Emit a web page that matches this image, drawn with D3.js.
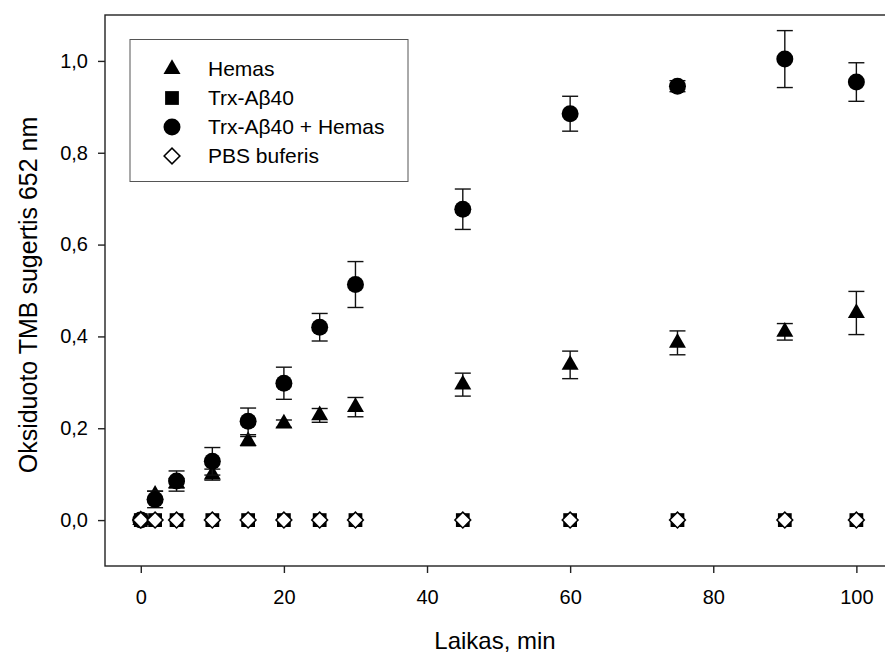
<!DOCTYPE html>
<meta charset="utf-8">
<style>
  body { margin: 0; background: #fff; }
  svg { font-family: "Liberation Sans", Arial, sans-serif; }
</style>
<svg width="885" height="655"></svg>
<script src="https://cdn.jsdelivr.net/npm/d3@7"></script>
<script>

// time points, min
var times = [0, 2, 5, 10, 15, 20, 25, 30, 45, 60, 75, 90, 100];

// Hemas
var hemas    = [0, 0.055, 0.08, 0.099, 0.172, 0.21, 0.228, 0.246, 0.295, 0.338, 0.386, 0.41, 0.451];
var hemasErr = [0, 0.008, 0.01, 0.012, 0.01, 0.008, 0.015, 0.021, 0.025, 0.03, 0.026, 0.018, 0.047];

// Trx-Ab40
var trx    = [0, 0, 0, 0, 0, 0, 0, 0, 0, 0, 0, 0, 0];
var trxErr = [0, 0, 0, 0, 0, 0, 0, 0, 0, 0, 0, 0, 0];

// Trx-Ab40 + Hemas
var mix    = [0, 0.045, 0.085, 0.128, 0.215, 0.298, 0.42, 0.513, 0.677, 0.885, 0.945, 1.004, 0.954];
var mixErr = [0, 0.018, 0.022, 0.03, 0.029, 0.035, 0.03, 0.05, 0.044, 0.038, 0.012, 0.062, 0.042];

// PBS buferis
var pbs    = [0, 0, 0, 0, 0, 0, 0, 0, 0, 0, 0, 0, 0];
var pbsErr = [0, 0, 0, 0, 0, 0, 0, 0, 0, 0, 0, 0, 0];

var seriesNames = ["Hemas", "Trx-A\u03b240", "Trx-A\u03b240 + Hemas", "PBS buferis"];
var xTicks = [0, 20, 40, 60, 80, 100];
var yTicks = [0, 0.2, 0.4, 0.6, 0.8, 1.0];

var svg = d3.select("svg");

var x = d3.scaleLinear().domain([-5, 104]).range([105, 885]);
var y = d3.scaleLinear().domain([-0.1, 1.1]).range([566, 15]);

var fmt = function(d) { return d3.format(".1f")(d).replace(".", ","); };

// symbol shapes per series
var shapes = [
  { type: d3.symbolTriangle, size: 125, fill: "#000", stroke: "none", rot: 0 },
  { type: d3.symbolSquare, size: 190, fill: "#000", stroke: "none", rot: 0 },
  { type: d3.symbolCircle, size: 227, fill: "#000", stroke: "none", rot: 0 },
  { type: d3.symbolSquare, size: 125, fill: "#fff", stroke: "#000", rot: 45 }
];

var series = [
  { vals: hemas, errs: hemasErr },
  { vals: trx, errs: trxErr },
  { vals: mix, errs: mixErr },
  { vals: pbs, errs: pbsErr }
];

var plot = svg.append("g");

series.forEach(function(s, si) {
  var pts = times.map(function(t, i) { return { t: t, v: s.vals[i], e: s.errs[i] }; });
  var g = plot.append("g");

  var eb = g.selectAll(".eb")
    .data(pts.filter(function(d) { return d.e > 0; }))
    .enter().append("g")
      .attr("stroke", "#111")
      .attr("stroke-width", 1.4);
  eb.append("line")
      .attr("x1", function(d) { return x(d.t); })
      .attr("x2", function(d) { return x(d.t); })
      .attr("y1", function(d) { return y(d.v - d.e); })
      .attr("y2", function(d) { return y(d.v + d.e); });
  eb.append("line")
      .attr("x1", function(d) { return x(d.t) - 8; })
      .attr("x2", function(d) { return x(d.t) + 8; })
      .attr("y1", function(d) { return y(d.v + d.e); })
      .attr("y2", function(d) { return y(d.v + d.e); });
  eb.append("line")
      .attr("x1", function(d) { return x(d.t) - 8; })
      .attr("x2", function(d) { return x(d.t) + 8; })
      .attr("y1", function(d) { return y(d.v - d.e); })
      .attr("y2", function(d) { return y(d.v - d.e); });

  var sh = shapes[si];
  g.selectAll(".pt")
    .data(pts)
    .enter().append("path")
      .attr("d", d3.symbol().type(sh.type).size(sh.size))
      .attr("transform", function(d) { return "translate(" + x(d.t) + "," + y(d.v) + ")rotate(" + sh.rot + ")"; })
      .attr("fill", sh.fill)
      .attr("stroke", sh.stroke)
      .attr("stroke-width", 1.5);
});

// frame
svg.append("rect")
    .attr("x", 105).attr("y", 15)
    .attr("width", 781).attr("height", 551)
    .attr("fill", "none")
    .attr("stroke", "#222")
    .attr("stroke-width", 1.4);

// axes
var xAxis = svg.append("g")
    .attr("transform", "translate(0,566)")
    .call(d3.axisBottom(x).tickValues(xTicks).tickSize(7).tickPadding(17).tickFormat(d3.format("d")));
var yAxis = svg.append("g")
    .attr("transform", "translate(105,0)")
    .call(d3.axisLeft(y).tickValues(yTicks).tickSize(7).tickPadding(10).tickFormat(fmt));

[xAxis, yAxis].forEach(function(a) {
  a.select(".domain").remove();
  a.selectAll(".tick line").attr("stroke", "#222").attr("stroke-width", 1.4);
  a.selectAll(".tick text").attr("font-size", 20).attr("fill", "#000")
    .attr("font-family", "'Liberation Sans', Arial, sans-serif");
});

// axis titles
svg.append("text")
    .attr("x", 495).attr("y", 649)
    .attr("text-anchor", "middle")
    .attr("font-size", 24)
    .text("Laikas, min");

svg.append("text")
    .attr("transform", "translate(37,295)rotate(-90)")
    .attr("text-anchor", "middle")
    .attr("font-size", 25)
    .text("Oksiduoto TMB sugertis 652 nm");

// legend
var legend = svg.append("g");
legend.append("rect")
    .attr("x", 130).attr("y", 39.5)
    .attr("width", 278).attr("height", 142)
    .attr("fill", "#fff")
    .attr("stroke", "#555")
    .attr("stroke-width", 1);

var item = legend.selectAll(".item")
  .data(seriesNames)
  .enter().append("g")
    .attr("transform", function(d, i) { return "translate(172," + (69 + i * 29) + ")"; });

item.append("path")
    .attr("d", function(d, i) { return d3.symbol().type(shapes[i].type).size(shapes[i].size)(); })
    .attr("transform", function(d, i) { return "rotate(" + shapes[i].rot + ")"; })
    .attr("fill", function(d, i) { return shapes[i].fill; })
    .attr("stroke", function(d, i) { return shapes[i].stroke; })
    .attr("stroke-width", 1.5);

item.append("text")
    .attr("x", 36)
    .attr("dy", "0.35em")
    .attr("font-size", 21)
    .text(function(d) { return d; });

</script>
